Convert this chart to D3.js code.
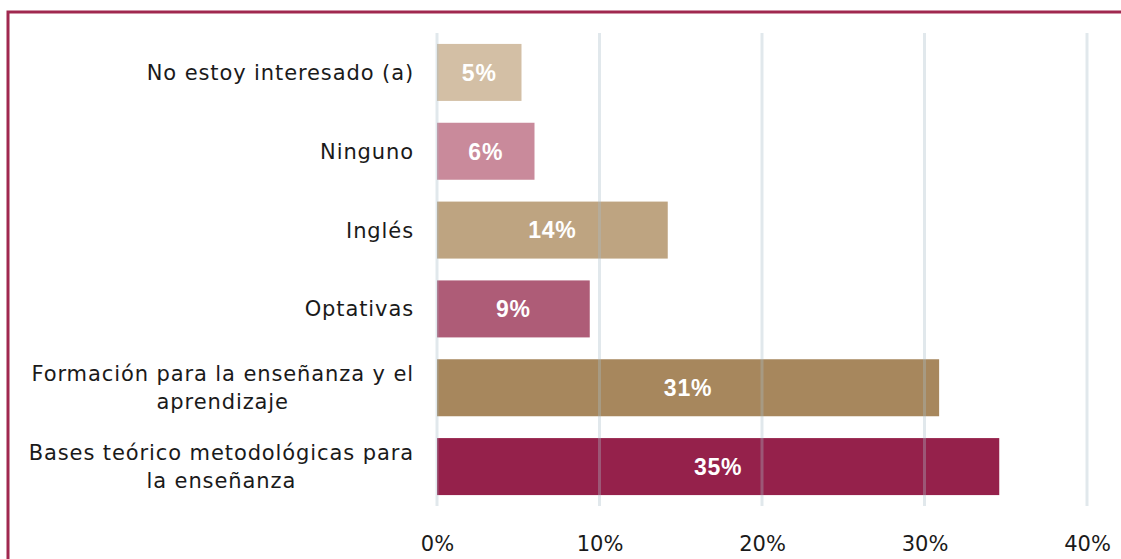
<!DOCTYPE html>
<html>
<head>
<meta charset="utf-8">
<script src="https://cdn.jsdelivr.net/npm/d3@7"></script>
<style>
  body { margin: 0; background: #fff; }
  svg { display: block; }
</style>
</head>
<body>
<svg id="chart"></svg>
<script>
// categories top to bottom, values in percent
const categories = [
  "No estoy interesado (a)",
  "Ninguno",
  "Inglés",
  "Optativas",
  "Formación para la enseñanza y el|aprendizaje",
  "Bases teórico metodológicas para|la enseñanza"
];
const values = [5.2, 6.0, 14.2, 9.4, 30.9, 34.6];
const valueLabels = ["5%", "6%", "14%", "9%", "31%", "35%"];
const barColors = ["#d3bfa5", "#c98a9b", "#bea481", "#ae5c77", "#a7875d", "#95214b"];
const xTicks = [0, 10, 20, 30, 40];

const width = 1121, height = 559;
const svg = d3.select("#chart").attr("width", width).attr("height", height);

// frame lines (top + left)
svg.append("path")
  .attr("d", "M8,559 V12 H1121")
  .attr("fill", "none")
  .attr("stroke", "#a0284f")
  .attr("stroke-width", 3);

const xScale = d3.scaleLinear().domain([0, 40]).range([437, 1087]);
const yScale = d3.scaleBand().domain(categories).range([33, 506])
  .paddingInner(0.277).paddingOuter(0.1385);

// bars
svg.selectAll("rect.bar").data(values).enter().append("rect")
  .attr("class", "bar")
  .attr("x", xScale(0))
  .attr("y", (d, i) => yScale(categories[i]))
  .attr("width", d => xScale(d) - xScale(0))
  .attr("height", yScale.bandwidth())
  .attr("fill", (d, i) => barColors[i]);

// gridlines over bars, faint
svg.selectAll("line.grid").data(xTicks).enter().append("line")
  .attr("class", "grid")
  .attr("x1", d => xScale(d)).attr("x2", d => xScale(d))
  .attr("y1", 33).attr("y2", 506)
  .attr("stroke", "#a9bcc8")
  .attr("stroke-opacity", 0.35)
  .attr("stroke-width", 3);

// value labels
svg.selectAll("text.val").data(values).enter().append("text")
  .attr("class", "val")
  .attr("x", d => (xScale(d) + xScale(0)) / 2)
  .attr("y", (d, i) => yScale(categories[i]) + yScale.bandwidth() / 2)
  .attr("dy", "0.36em")
  .attr("text-anchor", "middle")
  .attr("font-family", "Liberation Sans, Arial, sans-serif")
  .attr("font-weight", "bold")
  .attr("font-size", 23)
  .attr("letter-spacing", 0.8)
  .attr("fill", "#fff")
  .text((d, i) => valueLabels[i]);

// category labels: lines centered, block right-aligned at 414
const labG = svg.append("g").attr("font-family", "DejaVu Sans, sans-serif")
  .attr("font-size", 21).attr("letter-spacing", 0.9).attr("fill", "#1a1a1a");
categories.forEach((c, i) => {
  const lines = c.split("|");
  const cy = yScale(c) + yScale.bandwidth() / 2;
  const lh = 28;
  const t = labG.append("text").attr("y", cy).attr("text-anchor", "middle");
  lines.forEach((ln, j) => {
    t.append("tspan").attr("y", cy + (j - (lines.length - 1) / 2) * lh).attr("dy", "0.36em").text(ln);
  });
  // measure widest line and position block right edge
  let w = 0;
  t.selectAll("tspan").each(function() { w = Math.max(w, this.getComputedTextLength()); });
  const cx = 414 - w / 2;
  t.attr("x", cx).selectAll("tspan").attr("x", cx);
});

// x axis tick labels
svg.append("g")
  .attr("transform", "translate(0,532)")
  .call(d3.axisBottom(xScale).tickValues(xTicks).tickFormat(d => d + "%").tickSize(0).tickPadding(0))
  .call(g => g.select(".domain").remove())
  .call(g => g.selectAll("text")
    .attr("font-family", "DejaVu Sans, sans-serif")
    .attr("font-size", 21)
    .attr("fill", "#1a1a1a")
    .attr("dy", "0.9em"));
</script>
</body>
</html>
